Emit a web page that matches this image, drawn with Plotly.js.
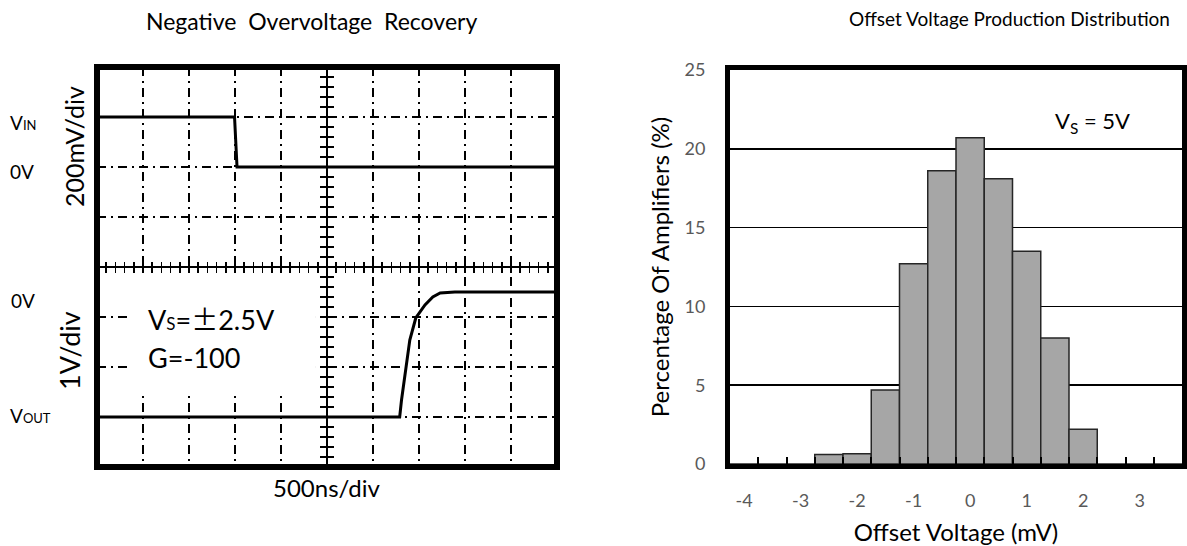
<!DOCTYPE html>
<html>
<head>
<meta charset="utf-8">
<script src="https://cdn.plot.ly/plotly-3.0.1.min.js"></script>
<style>html,body{margin:0;padding:0;background:#fff;}#chart{width:1187px;height:546px;}</style>
</head>
<body>
<div id="chart"></div>
<script>
// ---- Left chart data (scope traces): time in ns, VIN in mV, VOUT in V ----
const vinTime = [0, 1495, 1522, 5000];
const vinMilliVolts = [200, 200, 0, 0];
const voutTime = [0, 3290, 3310, 3360, 3400, 3465, 3565, 3650, 3730, 3890, 5000];
const voutVolts = [-2.5, -2.5, -2.16, -1.5, -0.96, -0.52, -0.26, -0.1, -0.02, 0, 0];

// ---- Right chart data (histogram) ----
const offsetCategories = [-4, -3.5, -3, -2.5, -2, -1.5, -1, -0.5, 0, 0.5, 1, 1.5, 2, 2.5, 3, 3.5];
const percentAmplifiers = [0, 0, 0, 0.6, 0.65, 4.7, 12.7, 18.6, 20.7, 18.1, 13.5, 8.0, 2.2, 0, 0, 0];
const offsetTickVals = [-4, -3, -2, -1, 0, 1, 2, 3];
const offsetTickText = ['-4', '-3', '-2', '-1', '0', '1', '2', '3'];
const binEdges = [-3.75, -3.25, -2.75, -2.25, -1.75, -1.25, -0.75, -0.25, 0.25, 0.75, 1.25, 1.75, 2.25, 2.75, 3.25];

const W = 1187, H = 546;
const px = x => x / W;
const py = y => 1 - y / H;
const LX = [px(97), px(557)], LY = [py(467), py(67)];
const RX = [px(730), px(1182)], RY = [py(464), py(70)];
const FONT = 'Lato, Carlito, Calibri, "Open Sans", sans-serif';
const DASH = '9px,5px,2px,5px';
const GAP = '\u00a0 ';

const traces = [
  {type:'scatter', mode:'lines', x: vinTime, y: vinMilliVolts, xaxis:'x', yaxis:'y',
   line:{color:'#000', width:3}, hoverinfo:'skip', showlegend:false},
  {type:'scatter', mode:'lines', x: voutTime, y: voutVolts, xaxis:'x', yaxis:'y5',
   line:{color:'#000', width:3}, hoverinfo:'skip', showlegend:false},
  {type:'scatter', x:[], y:[], xaxis:'x3', yaxis:'y', showlegend:false},
  {type:'scatter', x:[], y:[], xaxis:'x4', yaxis:'y', showlegend:false},
  {type:'scatter', x:[], y:[], xaxis:'x', yaxis:'y3', showlegend:false},
  {type:'scatter', x:[], y:[], xaxis:'x', yaxis:'y4', showlegend:false},
  {type:'bar', x: offsetCategories, y: percentAmplifiers, xaxis:'x2', yaxis:'y2', width:0.5,
   marker:{color:'#a6a6a6', line:{color:'#262626', width:1.5}}, hoverinfo:'skip', showlegend:false},
  {type:'scatter', x:[], y:[], xaxis:'x5', yaxis:'y2', showlegend:false}
];

const gridAxis = {showgrid:true, gridcolor:'#000', gridwidth:2, griddash:DASH, zeroline:false,
  showticklabels:false, ticks:'', showline:false, fixedrange:true};
const centerX = {range:[0,5000], tick0:0, dtick:100, ticklen:5, tickwidth:1.5, tickcolor:'#000',
  showticklabels:false, showgrid:false, zeroline:false, overlaying:'x', anchor:'free',
  position:(LY[0]+LY[1])/2, linecolor:'#000', linewidth:2};
const centerY = {range:[-1200,400], tick0:0, dtick:40, ticklen:6, tickwidth:1.5, tickcolor:'#000',
  showticklabels:false, showgrid:false, zeroline:false, overlaying:'y', anchor:'free',
  position:(LX[0]+LX[1])/2, linecolor:'#000', linewidth:2};

const layout = {
  width: W, height: H, margin:{l:0, r:0, t:0, b:0}, paper_bgcolor:'#fff', plot_bgcolor:'#fff',
  font:{family: FONT, color:'#000'}, showlegend:false,
  xaxis: Object.assign({}, gridAxis, {domain:LX, anchor:'y', range:[0,5000], tick0:0, dtick:500}),
  yaxis: Object.assign({}, gridAxis, {domain:LY, anchor:'x', range:[-1200,400], tick0:0, dtick:200}),
  yaxis5: {overlaying:'y', anchor:'x', range:[-3.5,4.5], showgrid:false, zeroline:false, showticklabels:false, ticks:''},
  xaxis3: Object.assign({}, centerX, {ticks:'outside', showline:true}),
  xaxis4: Object.assign({}, centerX, {ticks:'inside', showline:false}),
  yaxis3: Object.assign({}, centerY, {ticks:'outside', showline:true}),
  yaxis4: Object.assign({}, centerY, {ticks:'inside', showline:false}),
  xaxis2: {domain:RX, anchor:'y2', range:[-4.25,3.75], tickmode:'array', tickvals:offsetTickVals, ticktext:offsetTickText,
    ticks:'', showline:true, linecolor:'#000', linewidth:5, mirror:true, showgrid:false, zeroline:false,
    tickfont:{size:18, color:'#595959'}, ticklabelstandoff:16,
    title:{text:'Offset Voltage (mV)', font:{size:24, color:'#000'}, standoff:19}},
  yaxis2: {domain:RY, anchor:'x2', range:[0,25], dtick:5, tick0:0, showgrid:true, gridcolor:'#000', gridwidth:1.5,
    showline:true, linecolor:'#000', linewidth:5, mirror:true, ticks:'', zeroline:false,
    tickfont:{size:18, color:'#595959'}, ticklabelstandoff:16,
    title:{text:'Percentage Of Amplifiers (%)', font:{size:24, color:'#000'}, standoff:10}},
  xaxis5: {overlaying:'x2', anchor:'y2', range:[-4.25,3.75], tickmode:'array', tickvals:binEdges,
    ticks:'inside', ticklen:7, tickwidth:2, tickcolor:'#000', showticklabels:false, showgrid:false, zeroline:false, showline:false},
  shapes: [
    {type:'rect', xref:'x', yref:'y', x0:335, x1:2380, y0:-904, y1:-424, fillcolor:'#fff', line:{width:0}, layer:'between'},
    {type:'rect', xref:'x domain', yref:'y domain', x0:0, x1:1, y0:0, y1:1, line:{color:'#000', width:6}, layer:'above'}
  ],
  annotations: [
    {xref:'paper', yref:'paper', x:px(311), y:py(21), text:'Negative' + GAP + 'Overvoltage' + GAP + 'Recovery', showarrow:false, font:{size:23}, xanchor:'center', yanchor:'middle'},
    {xref:'paper', yref:'paper', x:px(8), y:py(123), text:'V<span style="font-size:13px">IN</span>', showarrow:false, font:{size:19}, xanchor:'left', yanchor:'middle'},
    {xref:'paper', yref:'paper', x:px(8), y:py(171), text:'0V', showarrow:false, font:{size:19}, xanchor:'left', yanchor:'middle'},
    {xref:'paper', yref:'paper', x:px(9), y:py(300), text:'0V', showarrow:false, font:{size:19}, xanchor:'left', yanchor:'middle'},
    {xref:'paper', yref:'paper', x:px(8), y:py(415), text:'V<span style="font-size:13px">OUT</span>', showarrow:false, font:{size:19}, xanchor:'left', yanchor:'middle'},
    {xref:'paper', yref:'paper', x:px(74), y:py(147), text:'200mV/div', textangle:-90, showarrow:false, font:{size:25}, xanchor:'center', yanchor:'middle'},
    {xref:'paper', yref:'paper', x:px(69), y:py(351), text:'1V/div', textangle:-90, showarrow:false, font:{size:27}, xanchor:'center', yanchor:'middle'},
    {xref:'paper', yref:'paper', x:px(326), y:py(487), text:'500ns/div', showarrow:false, font:{size:24}, xanchor:'center', yanchor:'middle'},
    {xref:'paper', yref:'paper', x:px(146), y:py(318), text:'V<span style="font-size:17px">S</span>=<span style="font-family:\'Noto Sans CJK SC\'">\u00b1</span>2.5V', showarrow:false, font:{size:27}, xanchor:'left', yanchor:'middle'},
    {xref:'paper', yref:'paper', x:px(146), y:py(357), text:'G=-100', showarrow:false, font:{size:27}, xanchor:'left', yanchor:'middle'},
    {xref:'paper', yref:'paper', x:px(1010), y:py(19), text:'Offset Voltage Production Distribution', showarrow:false, font:{size:19}, xanchor:'center', yanchor:'middle'},
    {xref:'paper', yref:'paper', x:px(1053), y:py(122), text:'V<sub>S</sub> = 5V', showarrow:false, font:{size:22}, xanchor:'left', yanchor:'middle'}
  ]
};

Plotly.newPlot('chart', traces, layout, {displayModeBar:false, staticPlot:true});
</script>
</body>
</html>
